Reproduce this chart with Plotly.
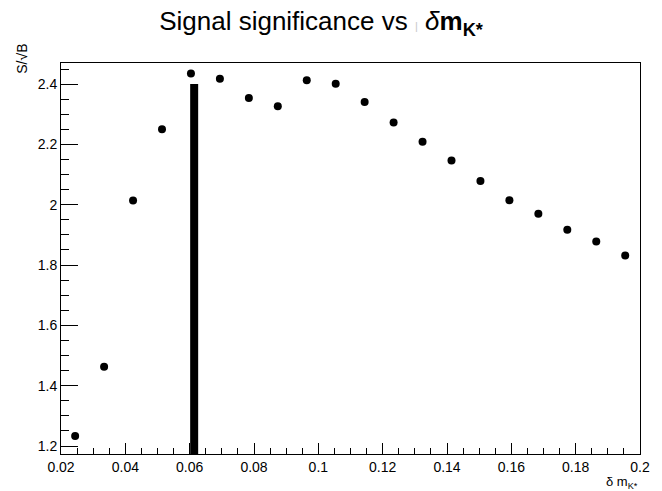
import plotly.graph_objects as go

# Data
dm = [0.0244, 0.0334, 0.0424, 0.0514, 0.0604, 0.0694, 0.0784, 0.0874, 0.0964, 0.1054,
      0.1144, 0.1234, 0.1324, 0.1414, 0.1504, 0.1594, 0.1684, 0.1774, 0.1864, 0.1954]
signif = [1.233, 1.463, 2.014, 2.250, 2.435, 2.418, 2.354, 2.327, 2.413, 2.401,
          2.341, 2.273, 2.209, 2.147, 2.079, 2.015, 1.970, 1.917, 1.878, 1.832]

# dense vertical band of points near dm ~ 0.0614
band_x = [0.0614, 0.0614]
band_y = [1.14, 2.40]

FONT = "Liberation Sans"

fig = go.Figure()
fig.add_trace(go.Scatter(x=band_x, y=band_y, mode="lines",
                         line=dict(color="black", width=8), showlegend=False))
fig.add_trace(go.Scatter(x=dm, y=signif, mode="markers",
                         marker=dict(color="black", size=8), showlegend=False))

fig.update_layout(
    width=662, height=491,
    margin=dict(l=61, r=12, t=63, b=37),
    plot_bgcolor="white",
    title=dict(
        text="Signal significance vs <span style='color:#c8c8c8;font-size:11px'>|</span> "
             "<i>δ</i><b>m</b><sub><b>K*</b></sub>",
        x=321 / 662, xanchor="center",
        y=1 - 21 / 491, yanchor="middle",
        font=dict(family=FONT, size=26, color="black"),
    ),
    xaxis=dict(
        range=[0.02, 0.2], dtick=0.02,
        ticks="inside", ticklen=11, tickwidth=1, tickcolor="black",
        minor=dict(ticks="inside", ticklen=6, tickwidth=1, tickcolor="black"),
        showline=True, linecolor="black", mirror=True,
        tickfont=dict(family=FONT, size=14, color="black"),
    ),
    yaxis=dict(
        range=[1.1735, 2.47], dtick=0.2,
        ticks="inside", ticklen=17, tickwidth=1, tickcolor="black",
        minor=dict(ticks="inside", ticklen=8, tickwidth=1, tickcolor="black"),
        showline=True, linecolor="black", mirror=True,
        tickfont=dict(family=FONT, size=14, color="black"),
    ),
    annotations=[
        dict(text="δ m<sub>K*</sub>", xref="paper", yref="paper", x=1.0, y=-0.072,
             xanchor="right", yanchor="middle", showarrow=False,
             font=dict(family=FONT, size=13, color="black")),
        dict(text="S/√B", xref="paper", yref="paper", x=-0.068, y=1.01,
             xanchor="center", yanchor="middle", textangle=-90, showarrow=False,
             font=dict(family=FONT, size=14, color="black")),
    ],
)

fig.write_html("out.html")
